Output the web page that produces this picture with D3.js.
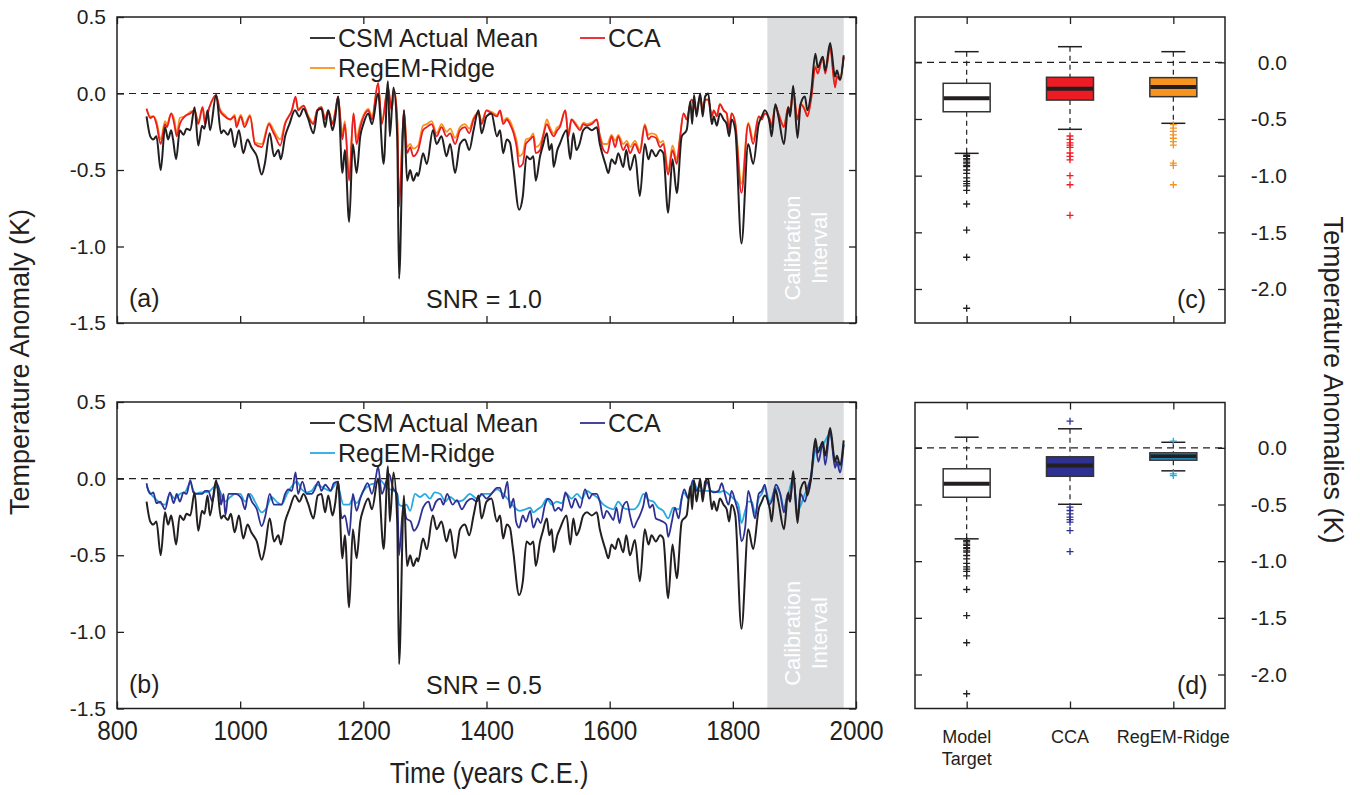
<!DOCTYPE html>
<html>
<head>
<meta charset="utf-8">
<script src="https://cdn.jsdelivr.net/npm/d3@7"></script>
<style>
  body { margin: 0; background: #fff; }
  svg { display: block; }
  text { font-family: "Liberation Sans", Arial, Helvetica, sans-serif; fill: #231f20; }
</style>
</head>
<body>
<script>
const W = 1360, H = 795;

// ---- time series: [year, anomaly K] ----
const csmMean = [
  [848,-0.15],[854,-0.28],[859,-0.30],[864,-0.28],[871,-0.50],[878,-0.22],[883,-0.30],[888,-0.24],[891,-0.30],[896,-0.43],
  [902,-0.24],[908,-0.27],[913,-0.23],[919,-0.24],[926,-0.09],[932,-0.34],[938,-0.21],[942,-0.23],[947,-0.11],[951,-0.24],
  [961,-0.01],[969,-0.26],[973,-0.24],[980,-0.27],[985,-0.23],[991,-0.35],[998,-0.24],[1005,-0.39],[1012,-0.30],[1018,-0.35],
  [1027,-0.41],[1035,-0.53],[1040,-0.46],[1048,-0.26],[1055,-0.41],[1062,-0.37],[1066,-0.43],[1073,-0.28],[1080,-0.20],[1089,-0.11],
  [1096,-0.15],[1103,-0.10],[1110,-0.16],[1119,-0.26],[1126,-0.11],[1132,-0.10],[1138,-0.22],[1143,-0.11],[1150,-0.24],[1154,-0.17],
  [1159,-0.02],[1166,-0.52],[1170,-0.37],[1177,-0.84],[1183,-0.33],[1189,-0.52],[1195,-0.28],[1200,-0.20],[1208,-0.13],[1214,-0.20],
  [1224,0.00],[1233,-0.46],[1240,0.08],[1243,-0.28],[1249,0.04],[1255,-0.28],[1258,-1.21],[1266,-0.11],[1271,-0.57],[1276,-0.50],
  [1281,-0.57],[1287,-0.52],[1289,-0.54],[1297,-0.39],[1303,-0.46],[1313,-0.24],[1319,-0.33],[1327,-0.28],[1335,-0.41],[1341,-0.33],
  [1349,-0.52],[1357,-0.33],[1365,-0.30],[1372,-0.37],[1379,-0.24],[1387,-0.11],[1392,-0.26],[1400,-0.15],[1408,-0.13],[1417,-0.28],
  [1422,-0.24],[1427,-0.39],[1433,-0.30],[1438,-0.32],[1443,-0.46],[1453,-0.76],[1459,-0.67],[1465,-0.41],[1471,-0.43],[1476,-0.41],
  [1480,-0.57],[1487,-0.41],[1491,-0.35],[1498,-0.26],[1502,-0.37],[1506,-0.33],[1509,-0.48],[1515,-0.37],[1519,-0.33],[1530,-0.24],
  [1536,-0.43],[1541,-0.26],[1546,-0.37],[1551,-0.33],[1557,-0.24],[1563,-0.22],[1571,-0.24],[1579,-0.22],[1584,-0.33],[1593,-0.46],
  [1598,-0.52],[1603,-0.43],[1609,-0.46],[1614,-0.39],[1622,-0.48],[1627,-0.37],[1633,-0.50],[1641,-0.40],[1649,-0.67],[1657,-0.33],
  [1663,-0.43],[1668,-0.37],[1675,-0.41],[1682,-0.37],[1687,-0.39],[1695,-0.78],[1702,-0.43],[1709,-0.65],[1717,-0.28],[1725,-0.24],
  [1731,-0.05],[1734,-0.20],[1737,-0.01],[1741,-0.15],[1747,0.00],[1751,-0.15],[1755,-0.02],[1760,0.00],[1766,-0.20],[1769,-0.15],
  [1774,-0.21],[1779,-0.13],[1785,-0.17],[1790,-0.20],[1794,-0.28],[1798,-0.17],[1804,-0.24],[1814,-0.98],[1825,-0.33],[1833,-0.46],
  [1842,-0.20],[1847,-0.15],[1852,-0.11],[1860,-0.20],[1863,-0.28],[1869,-0.07],[1874,-0.15],[1883,-0.33],[1890,-0.09],[1893,-0.15],
  [1898,0.05],[1905,-0.29],[1910,-0.07],[1917,-0.02],[1921,-0.11],[1927,0.00],[1934,0.26],[1938,0.17],[1946,0.24],[1950,0.15],
  [1958,0.33],[1966,0.11],[1969,0.15],[1974,0.09],[1980,0.25]
];

const ccaSnr10 = [
  [848,-0.10],[854,-0.16],[859,-0.15],[864,-0.20],[871,-0.33],[878,-0.20],[881,-0.22],[888,-0.13],[893,-0.20],[897,-0.28],
  [902,-0.20],[910,-0.15],[919,-0.13],[926,-0.11],[932,-0.20],[939,-0.09],[943,-0.20],[950,-0.09],[961,-0.01],[967,-0.11],
  [975,-0.15],[984,-0.17],[991,-0.15],[994,-0.22],[1001,-0.15],[1007,-0.22],[1016,-0.15],[1024,-0.33],[1035,-0.35],[1047,-0.20],
  [1052,-0.24],[1057,-0.28],[1065,-0.34],[1073,-0.20],[1084,-0.11],[1090,-0.02],[1094,-0.11],[1103,-0.08],[1110,-0.15],[1119,-0.20],
  [1125,-0.11],[1132,-0.09],[1138,-0.17],[1143,-0.11],[1150,-0.20],[1154,-0.13],[1159,-0.02],[1166,-0.30],[1170,-0.20],[1177,-0.57],
  [1184,-0.13],[1189,-0.33],[1195,-0.22],[1203,-0.13],[1208,-0.11],[1214,-0.17],[1224,0.07],[1230,-0.20],[1240,0.04],[1246,-0.11],
  [1250,0.02],[1255,-0.17],[1258,-0.74],[1266,-0.11],[1271,-0.39],[1276,-0.35],[1281,-0.41],[1289,-0.37],[1297,-0.24],[1303,-0.22],
  [1311,-0.20],[1319,-0.28],[1327,-0.22],[1335,-0.28],[1341,-0.26],[1349,-0.33],[1357,-0.24],[1365,-0.22],[1372,-0.26],[1379,-0.17],
  [1387,-0.13],[1392,-0.20],[1400,-0.11],[1408,-0.13],[1417,-0.15],[1422,-0.11],[1427,-0.20],[1433,-0.17],[1438,-0.20],[1444,-0.26],
  [1449,-0.35],[1453,-0.48],[1459,-0.46],[1464,-0.33],[1471,-0.30],[1476,-0.28],[1480,-0.39],[1487,-0.37],[1492,-0.28],[1498,-0.20],
  [1503,-0.24],[1509,-0.28],[1515,-0.24],[1519,-0.22],[1528,-0.11],[1533,-0.28],[1538,-0.17],[1544,-0.20],[1552,-0.24],[1557,-0.20],
  [1563,-0.21],[1571,-0.20],[1579,-0.17],[1584,-0.28],[1590,-0.37],[1596,-0.39],[1603,-0.28],[1609,-0.35],[1614,-0.28],[1622,-0.37],
  [1628,-0.33],[1633,-0.39],[1641,-0.33],[1649,-0.39],[1657,-0.21],[1663,-0.30],[1668,-0.28],[1675,-0.29],[1682,-0.35],[1687,-0.33],
  [1695,-0.53],[1702,-0.37],[1709,-0.46],[1714,-0.30],[1720,-0.13],[1725,-0.17],[1733,-0.04],[1741,-0.11],[1747,-0.02],[1751,-0.11],
  [1755,-0.04],[1760,-0.04],[1766,-0.15],[1769,-0.11],[1774,-0.15],[1779,-0.07],[1785,-0.11],[1790,-0.13],[1794,-0.24],[1798,-0.13],
  [1804,-0.20],[1814,-0.65],[1825,-0.20],[1833,-0.33],[1842,-0.15],[1847,-0.17],[1852,-0.13],[1860,-0.17],[1863,-0.22],[1869,-0.08],
  [1874,-0.13],[1883,-0.22],[1890,-0.09],[1893,-0.13],[1898,0.02],[1905,-0.17],[1910,-0.07],[1917,-0.11],[1921,-0.15],[1927,-0.04],
  [1934,0.17],[1938,0.13],[1946,0.24],[1950,0.13],[1958,0.30],[1966,0.04],[1969,0.11],[1974,0.09],[1980,0.24]
];

const regemSnr10 = [
  [848,-0.10],[854,-0.15],[859,-0.15],[864,-0.18],[871,-0.30],[878,-0.18],[881,-0.20],[888,-0.13],[893,-0.17],[897,-0.26],
  [902,-0.16],[910,-0.15],[919,-0.12],[926,-0.11],[932,-0.18],[939,-0.09],[943,-0.18],[950,-0.09],[961,-0.02],[967,-0.10],
  [975,-0.14],[984,-0.17],[991,-0.14],[994,-0.20],[1001,-0.14],[1007,-0.20],[1016,-0.14],[1024,-0.32],[1035,-0.33],[1047,-0.19],
  [1052,-0.22],[1057,-0.26],[1065,-0.30],[1073,-0.19],[1084,-0.11],[1090,-0.03],[1094,-0.10],[1103,-0.08],[1110,-0.14],[1119,-0.19],
  [1125,-0.11],[1132,-0.09],[1138,-0.16],[1143,-0.11],[1150,-0.19],[1154,-0.13],[1159,-0.03],[1166,-0.26],[1170,-0.18],[1177,-0.55],
  [1184,-0.13],[1189,-0.29],[1195,-0.20],[1203,-0.12],[1208,-0.10],[1214,-0.15],[1224,0.06],[1230,-0.18],[1240,0.04],[1246,-0.10],
  [1250,0.02],[1255,-0.16],[1258,-0.72],[1266,-0.11],[1271,-0.35],[1276,-0.33],[1281,-0.36],[1289,-0.34],[1297,-0.21],[1303,-0.20],
  [1311,-0.18],[1319,-0.26],[1327,-0.20],[1335,-0.25],[1341,-0.23],[1349,-0.29],[1357,-0.22],[1365,-0.20],[1372,-0.23],[1379,-0.16],
  [1387,-0.12],[1392,-0.18],[1400,-0.11],[1408,-0.12],[1417,-0.14],[1422,-0.11],[1427,-0.18],[1433,-0.16],[1438,-0.18],[1444,-0.24],
  [1449,-0.31],[1453,-0.41],[1459,-0.39],[1464,-0.30],[1471,-0.29],[1476,-0.26],[1480,-0.35],[1487,-0.33],[1492,-0.27],[1498,-0.17],
  [1503,-0.22],[1509,-0.26],[1515,-0.22],[1519,-0.21],[1528,-0.11],[1533,-0.26],[1538,-0.17],[1544,-0.19],[1552,-0.23],[1557,-0.19],
  [1563,-0.20],[1571,-0.19],[1579,-0.17],[1584,-0.27],[1590,-0.33],[1596,-0.33],[1603,-0.27],[1609,-0.31],[1614,-0.27],[1622,-0.33],
  [1628,-0.31],[1633,-0.35],[1641,-0.31],[1649,-0.37],[1657,-0.20],[1663,-0.27],[1668,-0.26],[1675,-0.27],[1682,-0.32],[1687,-0.31],
  [1695,-0.50],[1702,-0.34],[1709,-0.43],[1714,-0.29],[1720,-0.13],[1725,-0.16],[1733,-0.04],[1741,-0.11],[1747,-0.02],[1751,-0.10],
  [1755,-0.04],[1760,-0.04],[1766,-0.14],[1769,-0.11],[1774,-0.14],[1779,-0.07],[1785,-0.11],[1790,-0.13],[1794,-0.23],[1798,-0.13],
  [1804,-0.19],[1814,-0.59],[1825,-0.19],[1833,-0.30],[1842,-0.15],[1847,-0.16],[1852,-0.13],[1860,-0.17],[1863,-0.21],[1869,-0.08],
  [1874,-0.13],[1883,-0.21],[1890,-0.09],[1893,-0.12],[1898,0.02],[1905,-0.17],[1910,-0.07],[1917,-0.10],[1921,-0.14],[1927,-0.03],
  [1934,0.18],[1938,0.14],[1946,0.24],[1950,0.14],[1958,0.30],[1966,0.06],[1969,0.11],[1974,0.10],[1980,0.24]
];

const ccaSnr05 = [
  [848,-0.03],[851,-0.08],[855,-0.10],[859,-0.09],[864,-0.16],[870,-0.15],[878,-0.20],[886,-0.09],[892,-0.16],[897,-0.10],
  [902,-0.15],[908,-0.09],[913,-0.10],[919,-0.01],[924,-0.09],[929,-0.10],[938,-0.10],[943,-0.08],[948,-0.08],[955,-0.15],
  [961,-0.03],[966,-0.07],[969,-0.17],[973,-0.10],[976,-0.24],[981,-0.10],[992,-0.10],[1002,-0.13],[1008,-0.20],[1013,-0.10],
  [1019,-0.15],[1027,-0.20],[1035,-0.31],[1041,-0.24],[1048,-0.10],[1055,-0.17],[1067,-0.17],[1073,-0.10],[1078,-0.07],[1084,-0.08],
  [1090,0.04],[1094,-0.10],[1101,-0.02],[1108,-0.10],[1116,-0.10],[1120,-0.08],[1127,-0.02],[1132,-0.08],[1138,-0.04],[1143,-0.06],
  [1147,-0.08],[1152,-0.03],[1159,-0.02],[1165,-0.26],[1170,-0.24],[1177,-0.37],[1183,-0.10],[1189,-0.21],[1195,-0.13],[1200,-0.08],
  [1207,-0.03],[1214,-0.10],[1220,0.00],[1224,0.08],[1230,-0.10],[1237,-0.02],[1242,0.03],[1248,-0.06],[1255,-0.10],[1258,-0.50],
  [1265,-0.17],[1270,-0.26],[1277,-0.28],[1282,-0.34],[1289,-0.30],[1297,-0.19],[1306,-0.15],[1311,-0.21],[1318,-0.15],[1325,-0.13],
  [1330,-0.17],[1336,-0.10],[1345,-0.17],[1352,-0.14],[1360,-0.20],[1368,-0.15],[1376,-0.13],[1384,-0.15],[1392,-0.10],[1400,-0.13],
  [1408,-0.10],[1417,-0.06],[1422,-0.06],[1427,-0.13],[1434,-0.02],[1438,-0.19],[1444,-0.13],[1448,-0.28],[1453,-0.32],[1459,-0.24],
  [1464,-0.28],[1471,-0.21],[1476,-0.32],[1483,-0.26],[1488,-0.29],[1495,-0.17],[1500,-0.13],[1506,-0.15],[1511,-0.21],[1517,-0.19],
  [1522,-0.21],[1528,-0.09],[1533,-0.13],[1538,-0.19],[1544,-0.13],[1552,-0.19],[1560,-0.07],[1567,-0.13],[1572,-0.10],[1579,-0.10],
  [1584,-0.15],[1590,-0.26],[1595,-0.21],[1601,-0.24],[1606,-0.27],[1611,-0.19],[1616,-0.29],[1621,-0.19],[1628,-0.15],[1633,-0.24],
  [1639,-0.32],[1644,-0.28],[1649,-0.24],[1655,-0.17],[1659,-0.09],[1665,-0.19],[1670,-0.17],[1675,-0.26],[1681,-0.27],[1686,-0.28],
  [1692,-0.30],[1695,-0.38],[1701,-0.28],[1706,-0.19],[1712,-0.26],[1717,-0.13],[1721,-0.07],[1728,-0.13],[1735,-0.01],[1741,-0.08],
  [1747,-0.04],[1752,-0.10],[1758,-0.02],[1764,-0.08],[1769,-0.09],[1777,-0.08],[1782,-0.03],[1787,-0.10],[1793,-0.17],[1798,-0.08],
  [1804,-0.15],[1809,-0.23],[1814,-0.41],[1820,-0.32],[1825,-0.08],[1831,-0.17],[1836,-0.26],[1842,-0.10],[1847,-0.08],[1852,-0.04],
  [1858,-0.17],[1863,-0.15],[1870,-0.04],[1877,-0.10],[1883,-0.22],[1889,-0.10],[1893,-0.15],[1898,0.03],[1905,-0.26],[1910,-0.10],
  [1917,-0.15],[1923,-0.04],[1926,0.00],[1934,0.22],[1939,0.11],[1946,0.23],[1950,0.09],[1958,0.31],[1966,0.07],[1969,0.11],
  [1974,0.04],[1980,0.22]
];

const regemSnr05 = [
  [848,-0.05],[855,-0.10],[862,-0.13],[870,-0.16],[878,-0.17],[886,-0.10],[894,-0.13],[902,-0.10],[910,-0.09],[919,-0.03],
  [927,-0.10],[935,-0.09],[943,-0.09],[951,-0.08],[959,-0.05],[967,-0.08],[975,-0.15],[984,-0.12],[992,-0.10],[1000,-0.10],
  [1008,-0.15],[1016,-0.10],[1024,-0.15],[1035,-0.22],[1043,-0.19],[1051,-0.12],[1059,-0.15],[1067,-0.17],[1076,-0.10],[1084,-0.05],
  [1092,-0.02],[1100,-0.07],[1108,-0.09],[1116,-0.08],[1124,-0.04],[1135,-0.06],[1146,-0.08],[1157,-0.03],[1168,-0.17],[1177,-0.17],
  [1183,-0.13],[1189,-0.16],[1200,-0.08],[1211,-0.04],[1220,-0.03],[1227,-0.01],[1238,-0.06],[1249,-0.08],[1255,-0.10],[1258,-0.17],
  [1265,-0.18],[1270,-0.17],[1276,-0.21],[1284,-0.10],[1292,-0.12],[1300,-0.10],[1308,-0.13],[1316,-0.09],[1325,-0.10],[1333,-0.15],
  [1341,-0.12],[1352,-0.15],[1362,-0.14],[1373,-0.10],[1384,-0.13],[1395,-0.10],[1406,-0.10],[1417,-0.07],[1427,-0.10],[1438,-0.15],
  [1446,-0.19],[1454,-0.21],[1463,-0.20],[1471,-0.19],[1476,-0.22],[1483,-0.20],[1490,-0.18],[1498,-0.13],[1506,-0.17],[1514,-0.15],
  [1522,-0.16],[1530,-0.10],[1538,-0.13],[1547,-0.10],[1555,-0.13],[1563,-0.08],[1571,-0.10],[1579,-0.12],[1590,-0.17],[1598,-0.19],
  [1606,-0.20],[1614,-0.15],[1622,-0.19],[1630,-0.20],[1639,-0.20],[1647,-0.17],[1655,-0.10],[1663,-0.14],[1671,-0.15],[1679,-0.19],
  [1687,-0.21],[1695,-0.26],[1703,-0.19],[1712,-0.20],[1720,-0.09],[1728,-0.13],[1736,-0.02],[1744,-0.08],[1752,-0.08],[1763,-0.08],
  [1777,-0.09],[1785,-0.08],[1793,-0.10],[1801,-0.13],[1809,-0.17],[1814,-0.29],[1820,-0.21],[1825,-0.15],[1831,-0.15],[1836,-0.23],
  [1842,-0.13],[1847,-0.10],[1852,-0.06],[1860,-0.15],[1870,-0.06],[1877,-0.10],[1883,-0.19],[1890,-0.10],[1898,0.00],[1905,-0.21],
  [1917,-0.10],[1926,-0.02],[1934,0.18],[1946,0.22],[1958,0.29],[1966,0.11],[1974,0.08],[1980,0.23]
];

// ---- box plot summaries: [upper whisker, q3, median, q1, lower whisker] ----
const boxCats = ["Model Target", "CCA", "RegEM-Ridge"];
const boxStatsC = [
  [0.094, -0.185, -0.318, -0.436, -0.803],
  [0.138, -0.132, -0.233, -0.333, -0.591],
  [0.094, -0.135, -0.218, -0.303, -0.538]
];
const boxStatsD = [
  [0.094, -0.185, -0.318, -0.436, -0.803],
  [0.168, -0.079, -0.156, -0.251, -0.498],
  [0.049, -0.044, -0.074, -0.109, -0.203]
];
const outliersTarget = [-0.82,-0.83,-0.85,-0.86,-0.88,-0.89,-0.91,-0.92,-0.95,-0.98,-1.02,-1.05,-1.07,-1.09,-1.13,-1.25,-1.48,-1.72,-2.17];
const outliersC = [
  outliersTarget,
  [-0.65,-0.68,-0.71,-0.73,-0.75,-0.80,-0.83,-0.86,-1.00,-1.08,-1.35],
  [-0.55,-0.58,-0.61,-0.64,-0.67,-0.70,-0.73,-0.89,-0.91,-1.08]
];
const outliersD = [
  outliersTarget,
  [0.235,-0.524,-0.553,-0.583,-0.612,-0.633,-0.656,-0.73,-0.915],
  [0.058,-0.229,-0.245]
];

const timeTicks = [800, 1000, 1200, 1400, 1600, 1800, 2000];
const anomTicks = [-1.5, -1.0, -0.5, 0, 0.5];
const boxTicks = [-2.0, -1.5, -1.0, -0.5, 0];
const calibration = [1856, 1980];

const ink = "#231f20";
const red = "#ed1c24", orange = "#f7941d", navy = "#2e3192", cyan = "#27aae1";

const svg = d3.select("body").append("svg").attr("width", W).attr("height", H);

const x = d3.scaleLinear().domain([800, 2000]).range([117, 856]);
const xb = d3.scalePoint().domain(boxCats).range([915, 1225]).padding(0.5);
const fmt = d => d.toFixed(1);

function frame(g, x0, x1, y0, y1) {
  g.append("rect")
    .attr("x", x0).attr("y", y0)
    .attr("width", x1 - x0).attr("height", y1 - y0)
    .attr("fill", "none").attr("stroke", ink).attr("stroke-width", 1.5);
}

function zeroLine(g, x0, x1, yy) {
  g.append("line")
    .attr("x1", x0).attr("x2", x1).attr("y1", yy).attr("y2", yy)
    .attr("stroke", ink).attr("stroke-width", 1.2).attr("stroke-dasharray", "7,5");
}

function innerAxis(g, axis, tx, ty) {
  const a = g.append("g").attr("transform", `translate(${tx},${ty})`).call(axis);
  a.select(".domain").remove();
  a.selectAll(".tick line").attr("stroke", ink).attr("stroke-width", 1.3);
  return a;
}

function drawLinePanel(top, bottom, series, legend, tag, snr, withLabels) {
  const y = d3.scaleLinear().domain([-1.5, 0.5]).range([bottom, top]);
  const g = svg.append("g");

  // calibration interval shading
  g.append("rect")
    .attr("x", x(calibration[0])).attr("y", top)
    .attr("width", x(calibration[1]) - x(calibration[0]))
    .attr("height", bottom - top)
    .attr("fill", "#dcdddf");
  const cy = (top + bottom) / 2 + 78;
  [["Calibration", 33], ["Interval", 60]].forEach(([t, dx]) => {
    g.append("text")
      .attr("transform", `translate(${x(calibration[0]) + dx},${cy}) rotate(-90)`)
      .attr("text-anchor", "middle")
      .style("font-size", "22px")
      .style("fill", "#ffffff")
      .text(t);
  });

  zeroLine(g, 117, 856, y(0));

  const line = d3.line()
    .x(d => x(d[0]))
    .y(d => y(d[1]))
    .curve(d3.curveMonotoneX);

  series.forEach(s => {
    g.append("path").datum(s.data)
      .attr("d", line)
      .attr("fill", "none")
      .attr("stroke", s.color)
      .attr("stroke-width", s.width)
      .attr("stroke-linejoin", "round");
  });

  frame(g, 117, 856, top, bottom);

  // ticks on all four sides, pointing in
  const left = innerAxis(g, d3.axisLeft(y).tickValues(anomTicks).tickSizeInner(-7).tickSizeOuter(0).tickPadding(11).tickFormat(fmt), 117, 0);
  left.selectAll("text").style("font-size", "21px");
  innerAxis(g, d3.axisRight(y).tickValues(anomTicks).tickSizeInner(-7).tickSizeOuter(0).tickFormat(""), 856, 0);
  innerAxis(g, d3.axisTop(x).tickValues(timeTicks).tickSizeInner(-7).tickSizeOuter(0).tickFormat(""), 0, top);
  const bot = innerAxis(g, d3.axisBottom(x).tickValues(timeTicks).tickSizeInner(-7).tickSizeOuter(0).tickPadding(12)
    .tickFormat(withLabels ? d3.format("d") : ""), 0, bottom);
  // condensed look of the original tick font
  bot.selectAll("text").style("font-size", "28px").attr("transform", "scale(0.87,1)");

  // legend
  legend.forEach(l => {
    g.append("line")
      .attr("x1", l.x).attr("x2", l.x + 25)
      .attr("y1", top + l.dy).attr("y2", top + l.dy)
      .attr("stroke", l.color).attr("stroke-width", 1.8);
    g.append("text")
      .attr("x", l.x + 28).attr("y", top + l.dy + 9)
      .style("font-size", "25px")
      .text(l.label);
  });

  g.append("text").attr("x", 129).attr("y", bottom - 16).style("font-size", "25px").text(tag);
  g.append("text").attr("x", 426).attr("y", bottom - 15).style("font-size", "25px").text(snr);
}

function drawBoxPanel(top, bottom, stats, outliers, fills, pointColors, tag) {
  const y = d3.scaleLinear().domain([-2.3, 0.4]).range([bottom, top]);
  const g = svg.append("g");

  zeroLine(g, 915, 1225, y(0));

  boxCats.forEach((c, i) => {
    const cx = xb(c);
    const [hi, q3, med, q1, lo] = stats[i];
    g.append("line").attr("x1", cx).attr("x2", cx).attr("y1", y(hi)).attr("y2", y(q3))
      .attr("stroke", ink).attr("stroke-width", 1.2).attr("stroke-dasharray", "5,4");
    g.append("line").attr("x1", cx).attr("x2", cx).attr("y1", y(q1)).attr("y2", y(lo))
      .attr("stroke", ink).attr("stroke-width", 1.2).attr("stroke-dasharray", "5,4");
    [hi, lo].forEach(v => {
      g.append("line").attr("x1", cx - 12).attr("x2", cx + 12).attr("y1", y(v)).attr("y2", y(v))
        .attr("stroke", ink).attr("stroke-width", 1.5);
    });
    g.append("rect")
      .attr("x", cx - 23.5).attr("y", y(q3))
      .attr("width", 47).attr("height", y(q1) - y(q3))
      .attr("fill", fills[i]).attr("stroke", "#333").attr("stroke-width", 1.5);
    g.append("line").attr("x1", cx - 23).attr("x2", cx + 23).attr("y1", y(med)).attr("y2", y(med))
      .attr("stroke", ink).attr("stroke-width", 4);

    g.selectAll(null).data(outliers[i]).enter().append("path")
      .attr("d", d => `M${cx - 3.5},${y(d)}H${cx + 3.5}M${cx},${y(d) - 3.5}V${y(d) + 3.5}`)
      .attr("stroke", pointColors[i]).attr("stroke-width", 1.3).attr("fill", "none");
  });

  frame(g, 915, 1225, top, bottom);

  innerAxis(g, d3.axisLeft(y).tickValues(boxTicks).tickSizeInner(-7).tickSizeOuter(0).tickFormat(""), 915, 0);
  const right = innerAxis(g, d3.axisRight(y).tickValues(boxTicks).tickSizeInner(-7).tickSizeOuter(0).tickFormat(fmt), 1225, 0);
  right.selectAll("text").attr("x", 62).attr("text-anchor", "end").style("font-size", "21px");
  innerAxis(g, d3.axisTop(xb).tickSizeInner(-7).tickSizeOuter(0).tickFormat(""), 0, top);
  innerAxis(g, d3.axisBottom(xb).tickSizeInner(-7).tickSizeOuter(0).tickFormat(""), 0, bottom);

  g.append("text").attr("x", 1177).attr("y", bottom - 15).style("font-size", "25px").text(tag);
}

// panel (a)
drawLinePanel(17, 323,
  [
    { data: regemSnr10, color: orange, width: 1.8 },
    { data: ccaSnr10, color: red, width: 1.8 },
    { data: csmMean, color: ink, width: 2 }
  ],
  [
    { label: "CSM Actual Mean", color: ink, x: 310, dy: 21 },
    { label: "CCA", color: red, x: 580, dy: 21 },
    { label: "RegEM-Ridge", color: orange, x: 310, dy: 51 }
  ],
  "(a)", "SNR = 1.0", false);

// panel (b)
drawLinePanel(402, 708.5,
  [
    { data: regemSnr05, color: cyan, width: 1.8 },
    { data: ccaSnr05, color: navy, width: 1.8 },
    { data: csmMean, color: ink, width: 2 }
  ],
  [
    { label: "CSM Actual Mean", color: ink, x: 310, dy: 21 },
    { label: "CCA", color: navy, x: 580, dy: 21 },
    { label: "RegEM-Ridge", color: cyan, x: 310, dy: 51 }
  ],
  "(b)", "SNR = 0.5", true);

// panels (c) and (d)
drawBoxPanel(17, 323, boxStatsC, outliersC, ["#fff", red, orange], [ink, red, orange], "(c)");
drawBoxPanel(402.5, 708.5, boxStatsD, outliersD, ["#fff", navy, cyan], [ink, navy, cyan], "(d)");

// box category labels
boxCats.forEach(c => {
  const t = svg.append("text")
    .attr("x", xb(c)).attr("y", 743)
    .attr("text-anchor", "middle")
    .style("font-size", "18px");
  const parts = c === "Model Target" ? ["Model", "Target"] : [c];
  parts.forEach((p, i) => {
    t.append("tspan").attr("x", xb(c)).attr("dy", i === 0 ? 0 : 22).text(p);
  });
});

// axis titles
svg.append("text")
  .attr("transform", "translate(489,783) scale(0.85,1)")
  .attr("text-anchor", "middle")
  .style("font-size", "30px")
  .text("Time (years C.E.)");

svg.append("text")
  .attr("transform", "translate(29,362) rotate(-90)")
  .attr("text-anchor", "middle")
  .style("font-size", "27px")
  .text("Temperature Anomaly (K)");

svg.append("text")
  .attr("transform", "translate(1324,380) rotate(90)")
  .attr("text-anchor", "middle")
  .style("font-size", "27px")
  .text("Temperature Anomalies (K)");
</script>
</body>
</html>
